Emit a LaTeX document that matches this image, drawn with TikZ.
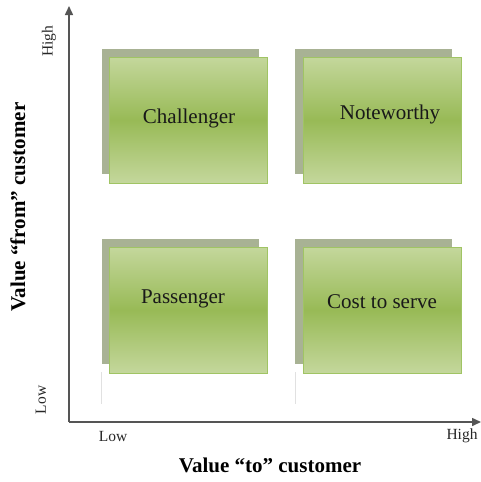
\documentclass[tikz,border=0pt]{standalone}
\usepackage{fontspec}
\setmainfont{Liberation Serif}
\usetikzlibrary{arrows.meta}

\definecolor{shadowgray}{RGB}{168,178,148}
\definecolor{paleleaf}{RGB}{196,215,156}
\definecolor{leaf}{RGB}{152,186,86}
\definecolor{leafedge}{RGB}{160,196,100}
\definecolor{axisgray}{RGB}{85,85,85}
\definecolor{tracegray}{RGB}{225,225,225}

\tikzset{
  backplate/.style={fill=shadowgray, draw=none, minimum width=157pt, minimum height=125pt, inner sep=0pt},
  frontplate/.style={draw=leafedge, line width=0.8pt, top color=paleleaf, bottom color=paleleaf, middle color=leaf,
                     minimum width=158pt, minimum height=126pt, inner sep=0pt},
  celltext/.style={font=\fontsize{21}{24}\selectfont, text=black!90},
  axis/.style={draw=axisgray, line width=1.5pt, -{Triangle[length=9pt,width=8pt]}},
  ticktext/.style={font=\fontsize{15.5}{18}\selectfont, text=black!85},
  axistitle/.style={font=\fontsize{21}{24}\selectfont\bfseries},
  trace/.style={draw=tracegray, line width=1pt}
}

\begin{document}
\begin{tikzpicture}[x=1pt,y=-1pt]
  \useasboundingbox (0,0) rectangle (480,482);

  % back plates
  \node[backplate] (bTL) at (180.5,111) {};
  \node[backplate] (bTR) at (373.5,111) {};
  \node[backplate] (bBL) at (180.5,301) {};
  \node[backplate] (bBR) at (373.5,301) {};

  % faint traces under the lower back plates
  \coordinate (tL1) at (101.5,372);
  \coordinate (tL2) at (101.5,404);
  \coordinate (tR1) at (295.5,372);
  \coordinate (tR2) at (295.5,404);
  \draw[trace] (tL1) -- (tL2);
  \draw[trace] (tR1) -- (tR2);

  % front plates
  \node[frontplate] (fTL) at (188.5,120) {};
  \node[frontplate] (fTR) at (382,120) {};
  \node[frontplate] (fBL) at (188.5,310) {};
  \node[frontplate] (fBR) at (382,310) {};

  % quadrant names
  \node[celltext] (tChallenger) at (189,118) {Challenger};
  \node[celltext] (tNoteworthy) at (390,114) {Noteworthy};
  \node[celltext] (tPassenger) at (183,299) {Passenger};
  \node[celltext] (tCost) at (382,302) {Cost to serve};

  % axes
  \coordinate (origin) at (69,422);
  \coordinate (ytop) at (69,6);
  \coordinate (xend) at (481,422);
  \draw[axis] (origin) -- (ytop);
  \draw[axis] (origin) -- (xend);

  % scale ends
  \node[ticktext, rotate=90] (yHigh) at (49,41) {High};
  \node[ticktext, rotate=90] (yLow) at (41,400) {Low};
  \node[ticktext] (xLow) at (113,436) {Low};
  \node[ticktext] (xHigh) at (462,436) {High};

  % axis titles
  \node[axistitle, rotate=90] (yTitle) at (18,207) {Value “from” customer};
  \node[axistitle] (xTitle) at (270,465) {Value “to” customer};
\end{tikzpicture}
\end{document}
